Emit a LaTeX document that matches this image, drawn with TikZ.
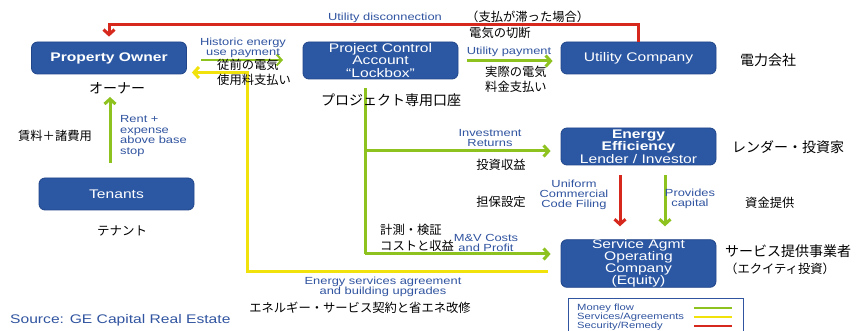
\documentclass[tikz,border=0pt]{standalone}
\usepackage{fontspec}
\setmainfont[FakeStretch=1.25]{Liberation Sans}
\newfontfamily\jp{Noto Sans CJK JP}
\usetikzlibrary{arrows.meta,calc}
\definecolor{boxblue}{RGB}{43,87,163}
\definecolor{boxedge}{RGB}{33,70,138}
\definecolor{lblue}{RGB}{48,84,160}
\definecolor{mgreen}{RGB}{141,194,31}
\definecolor{myellow}{RGB}{240,226,10}
\definecolor{mred}{RGB}{214,40,28}
\begin{document}
\begin{tikzpicture}[x=1pt,y=-1pt,
  box/.style={draw=boxedge, line width=0.8pt, fill=boxblue, rounded corners=6pt, text=white,
    align=center, font=\fontsize{12.5}{12.5}\selectfont, inner sep=0pt, minimum width=155pt},
  lbl/.style={text=lblue, align=center, font=\fontsize{10.3}{10}\selectfont, inner sep=0pt},
  jp/.style={font=\jp\fontsize{12.3}{15.5}\selectfont, inner sep=0pt, align=left},
  jpl/.style={font=\jp\fontsize{14}{20}\selectfont, inner sep=0pt, align=left},
  tip/.style={-{Straight Barb[length=5pt,width=11pt]}},
  gl/.style={draw=mgreen, line width=3pt},
  yl/.style={draw=myellow, line width=3pt},
  rl/.style={draw=mred, line width=3pt}]
\useasboundingbox (0,0) rectangle (860,331);
\fill[white] (0,0) rectangle (860,331);

% boxes
\node[box, minimum height=32pt, font=\bfseries\fontsize{12.5}{12.5}\selectfont] (po) at (109,58) {Property Owner};
\node[box, minimum height=37pt] (pca) at (380.5,60.5) {Project Control\\Account\\``Lockbox''};
\node[box, minimum height=32pt] (uc) at (638.5,58) {Utility Company};
\node[box, minimum height=37pt] (ee) at (638.5,146.5) {\textbf{Energy}\\\textbf{Efficiency}\\Lender / Investor};
\node[box, minimum height=32pt] (tn) at (116.5,194) {Tenants};
\node[box, minimum height=47pt, font=\fontsize{12.5}{12}\selectfont] (sv) at (638.5,263.5) {Service Agmt\\Operating\\Company\\(Equity)};

% coordinates
\coordinate (rtop) at (0,25);
\coordinate (h1) at (201,60);
\coordinate (h2) at (283,60);
\coordinate (ytop) at (247,72.5);
\coordinate (ybot) at (247,272);
\coordinate (yend) at (548,272);
\coordinate (gtop) at (365,88);
\coordinate (g1) at (365,151);
\coordinate (g2) at (365,254);
\coordinate (u1) at (0,61);
\coordinate (rb) at (110,163);
\coordinate (rt) at (110,97);
\coordinate (dr) at (620,0);
\coordinate (dg) at (665,0);

% red disconnection
\draw[rl, tip, shorten >=5pt] (uc.north) -- (uc.north |- rtop) -- (po.north |- rtop) -- (po.north);
% historic energy payment
\draw[gl, line width=2pt, tip] (h1) -- (h2);
% yellow services
\draw[yl, tip, shorten >=5pt] (yend) -- (ybot) -- (ytop) -- (po.east |- ytop);
% green tree
\draw[gl] (gtop) -- (g2);
\draw[gl, tip, shorten >=10pt] (g1) -- (ee.west |- g1);
\draw[gl, tip, shorten >=10pt] (g2) -- (sv.west |- g2);
% utility payment
\draw[gl, tip, shorten <=9pt, shorten >=8pt] (pca.east |- u1) -- (uc.west |- u1);
% rent
\draw[gl, tip] (rb) -- (rt);
% down arrows
\draw[rl, tip, shorten <=10pt, shorten >=13pt] (ee.south -| dr) -- (sv.north -| dr);
\draw[gl, tip, shorten <=10pt, shorten >=13pt] (ee.south -| dg) -- (sv.north -| dg);

% labels
\node[lbl] (l1) at (385,18) {Utility disconnection};
\node[jp, anchor=west] (j1) at (466,17) {（支払が滞った場合）};
\node[jp, anchor=west] (j2) at (469,33) {電気の切断};
\node[lbl] (l2) at (243,47.5) {Historic energy\\use payment};
\node[jp, anchor=west] (j3) at (217,72.5) {従前の電気\\使用料支払い};
\node[lbl] (l3) at (509,52) {Utility payment};
\node[jp, anchor=west] (j4) at (485,79.5) {実際の電気\\料金支払い};
\node[jpl] (j5) at (391,100) {プロジェクト専用口座};
\node[jpl] (j6) at (117,88) {オーナー};
\node[jp] (j7) at (55,136) {賃料＋諸費用};
\node[lbl, align=left, anchor=west, font=\fontsize{10.3}{10.7}\selectfont] (l4) at (120,136) {Rent +\\expense\\above base\\stop};
\node[jpl, font=\jp\fontsize{12.5}{15}\selectfont] (j8) at (122,231) {テナント};
\node[lbl] (l5) at (490,138) {Investment\\Returns};
\node[jp] (j9) at (501,165) {投資収益};
\node[jp] (j10) at (501,202) {担保設定};
\node[jp, anchor=west, font=\jp\fontsize{12.3}{16}\selectfont] (j11) at (380,238) {計測・検証\\コストと収益};
\node[lbl] (l6) at (486,242.5) {M\&V Costs\\and Profit};
\node[lbl] (l7) at (383,287) {Energy services agreement\\and building upgrades};
\node[jp] (j12) at (360,308) {エネルギー・サービス契約と省エネ改修};
\node[lbl, anchor=west, font=\fontsize{12.5}{12}\selectfont] (src) at (10,320) {Source: GE Capital Real Estate};
\node[jpl, anchor=west] (j13) at (740,60) {電力会社};
\node[jpl, anchor=west] (j14) at (732,147) {レンダー・投資家};
\node[lbl] (l8) at (574,195) {Uniform\\Commercial\\Code Filing};
\node[lbl] (l9) at (690,199) {Provides\\capital};
\node[jp, anchor=west] (j15) at (745,203) {資金提供};
\node[jpl, anchor=west] (j16) at (725,251) {サービス提供事業者};
\node[jpl, anchor=west, font=\jp\fontsize{12.3}{15}\selectfont] (j17) at (725,269) {（エクイティ投資）};

% legend
\node[draw=lblue, line width=1.3pt, minimum width=175pt, minimum height=42pt, inner sep=0pt, anchor=north west] (leg) at (568,298) {};
\node[lbl, align=left, anchor=west, font=\fontsize{9}{9}\selectfont] (legt) at (577,317) {Money flow\\Services/Agreements\\Security/Remedy};
\draw[gl, line width=2.5pt] (694,308) -- (732,308);
\draw[yl, line width=2.5pt] (694,317) -- (732,317);
\draw[rl, line width=2.5pt] (694,326) -- (732,326);
\end{tikzpicture}
\end{document}
